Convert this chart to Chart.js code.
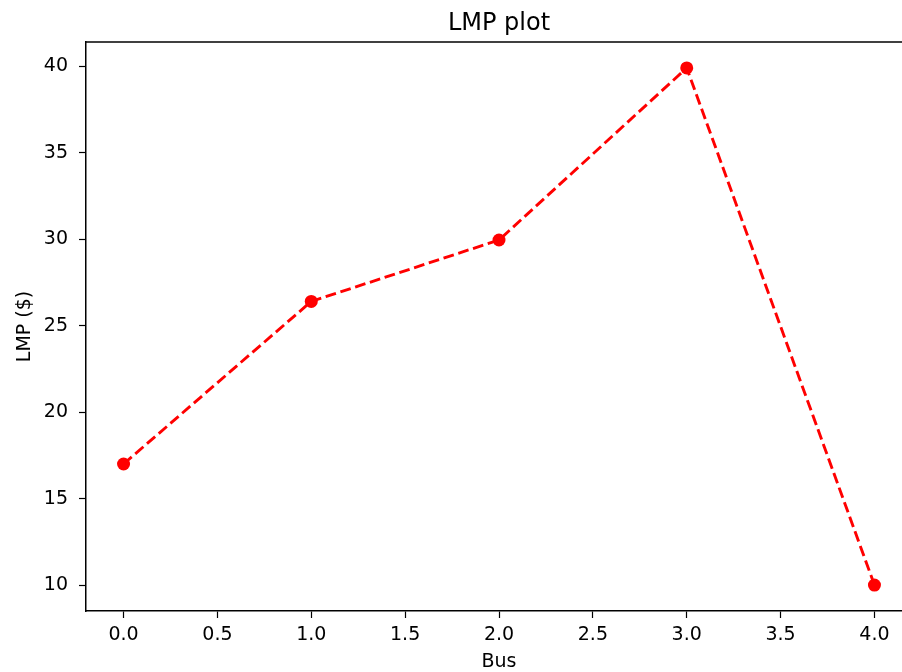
<!DOCTYPE html>
<html>
<head>
<meta charset="utf-8">
<title>LMP plot</title>
<script src="https://cdn.jsdelivr.net/npm/chart.js@4/dist/chart.umd.min.js"></script>
<style>
    html, body { margin: 0; padding: 0; background: #fff; overflow: hidden; }
    #wrap { width: 912px; height: 672px; position: relative; }
</style>
</head>
<body>
<div id="wrap"><canvas id="lmpChart"></canvas></div>
<script>
// данные графика
const buses = [0, 1, 2, 3, 4];
const lmpValues = [17.0, 26.4, 29.95, 39.9, 10.0];
const xTicks = [0, 0.5, 1, 1.5, 2, 2.5, 3, 3.5, 4];
const yTicks = [10, 15, 20, 25, 30, 35, 40];

const FONT = 'DejaVu Sans';

// верхняя рамка, как у matplotlib (правая уходит за край картинки)
const frameTop = {
    id: 'frameTop',
    afterDraw(chart) {
        const { ctx, chartArea } = chart;
        ctx.save();
        ctx.strokeStyle = '#000';
        ctx.lineWidth = 1.5;
        ctx.beginPath();
        ctx.moveTo(chartArea.left, chartArea.top);
        ctx.lineTo(chartArea.right, chartArea.top);
        ctx.stroke();
        ctx.restore();
    }
};

function renderLMPChart() {
    const ctx = document.getElementById('lmpChart').getContext('2d');

    window.lmpChart = new Chart(ctx, {
        type: 'scatter',
        data: {
            datasets: [{
                label: 'LMP',
                data: buses.map((b, i) => ({ x: b, y: lmpValues[i] })),
                showLine: true,
                borderColor: '#ff0000',
                backgroundColor: '#ff0000',
                borderWidth: 2.9,
                borderDash: [10.8, 4.7],
                pointRadius: 6.5,
                pointHoverRadius: 6.5,
                pointBorderWidth: 0,
                tension: 0
            }]
        },
        options: {
            responsive: true,
            maintainAspectRatio: false,
            animation: false,
            layout: { padding: 0, autoPadding: false },
            plugins: {
                legend: { display: false },
                tooltip: { enabled: false },
                title: {
                    display: true,
                    fullSize: false,
                    text: 'LMP plot',
                    color: '#000',
                    font: { family: FONT, size: 24, weight: 'normal', lineHeight: 1.2 },
                    padding: { top: 9, bottom: 4.2 }
                }
            },
            scales: {
                x: {
                    type: 'linear',
                    min: -0.2,
                    max: 4.2,
                    afterFit: s => { s.height = 61; },
                    afterBuildTicks: s => { s.ticks = xTicks.map(v => ({ value: v })); },
                    border: { display: true, color: '#000', width: 1.5 },
                    grid: { drawOnChartArea: false, drawTicks: true, tickLength: 7, tickColor: '#000', tickWidth: 1.2 },
                    ticks: {
                        color: '#000',
                        padding: 5.5,
                        maxRotation: 0,
                        autoSkip: false,
                        font: { family: FONT, size: 19 },
                        callback: v => v.toFixed(1)
                    },
                    title: {
                        display: true,
                        text: 'Bus',
                        color: '#000',
                        font: { family: FONT, size: 19, lineHeight: 1 },
                        padding: { top: 0.5, bottom: 0.5 }
                    }
                },
                y: {
                    type: 'linear',
                    min: 8.5,
                    max: 41.4,
                    afterFit: s => { s.width = 86; },
                    afterBuildTicks: s => { s.ticks = yTicks.map(v => ({ value: v })); },
                    border: { display: true, color: '#000', width: 1.5 },
                    grid: { drawOnChartArea: false, drawTicks: true, tickLength: 7, tickColor: '#000', tickWidth: 1.2 },
                    ticks: {
                        color: '#000',
                        padding: 11,
                        autoSkip: false,
                        font: { family: FONT, size: 19 },
                        callback: v => String(v)
                    },
                    title: {
                        display: true,
                        text: 'LMP ($)',
                        color: '#000',
                        font: { family: FONT, size: 19, lineHeight: 1.2 },
                        padding: { top: 13.6, bottom: 0 }
                    }
                }
            }
        },
        plugins: [frameTop]
    });
}

window.onload = renderLMPChart;
</script>
</body>
</html>
